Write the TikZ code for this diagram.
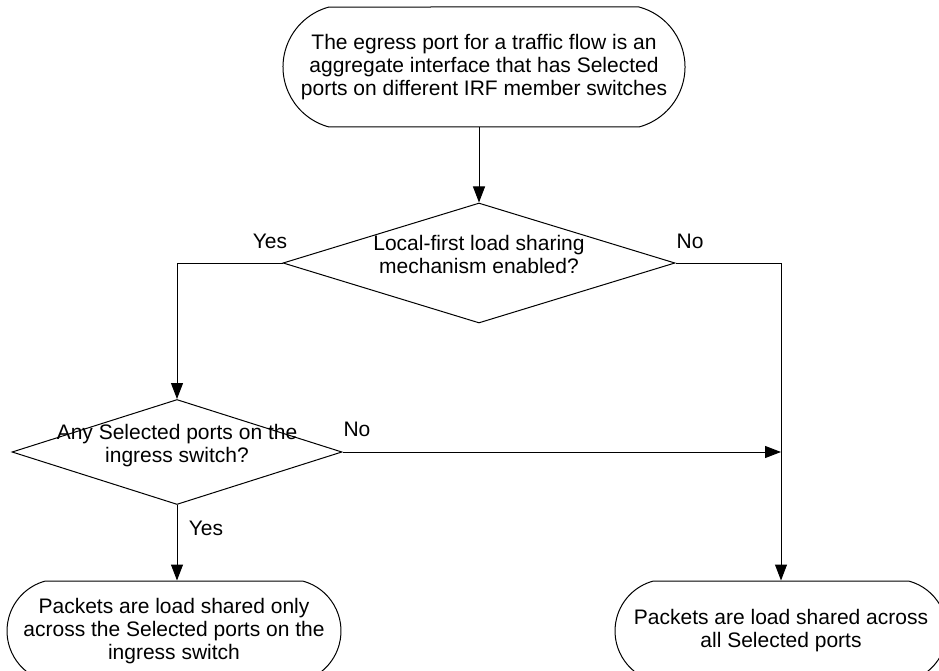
\documentclass[tikz,border=0pt]{standalone}
\usepackage{fontspec}
\setmainfont{Liberation Sans}
\usetikzlibrary{shapes.geometric,shapes.misc,arrows.meta}
\begin{document}
\begin{tikzpicture}[x=1pt,y=-1pt,
  every node/.style={font=\fontsize{21}{23}\selectfont},
  term/.style={rounded rectangle, rounded rectangle arc length=150, draw, line width=1pt, align=center, inner sep=0pt},
  dec/.style={diamond, draw, line width=1pt, inner sep=0pt},
  conn/.style={line width=1pt, -{Triangle[length=16pt,width=12pt]}},
  plain/.style={line width=1pt}]
\clip (0,0) rectangle (939,671);
\node[term, minimum width=402pt, minimum height=120pt] (t1) at (484,67)
  {The egress port for a traffic flow is an\\aggregate interface that has Selected\\ports on different IRF member switches};
\node[dec, minimum width=392pt, minimum height=120pt] (d1) at (479,263)
  {\smash{\makebox[0pt]{\begin{tabular}{@{}c@{}}Local-first load sharing\\mechanism enabled?\end{tabular}}}};
\node[dec, minimum width=330pt, minimum height=105pt] (d2) at (177,452)
  {\smash{\makebox[0pt]{\begin{tabular}{@{}c@{}}Any Selected ports on the\\ingress switch?\end{tabular}}}};
\node[term, minimum width=334pt, minimum height=100pt] (t2) at (174,631)
  {Packets are load shared only\\across the Selected ports on the\\ingress switch};
\node[term, minimum width=332pt, minimum height=100pt] (t3) at (781,631)
  {Packets are load shared across\\all Selected ports};
\coordinate (j) at (d2.east -| t3.north);
\draw[conn] (t1.south -| d1.north) -- (d1.north);
\draw[conn] (d1.west) -| (d2.north);
\draw[conn] (d1.east) -| (t3.north);
\draw[conn] (d2.east) -- (j);
\draw[conn] (d2.south) -- (d2.south |- t2.north);
\node (y1) at (270,241) {Yes};
\node (n1) at (690,241) {No};
\node (n2) at (357,429) {No};
\node (y2) at (206,528) {Yes};
\end{tikzpicture}
\end{document}
